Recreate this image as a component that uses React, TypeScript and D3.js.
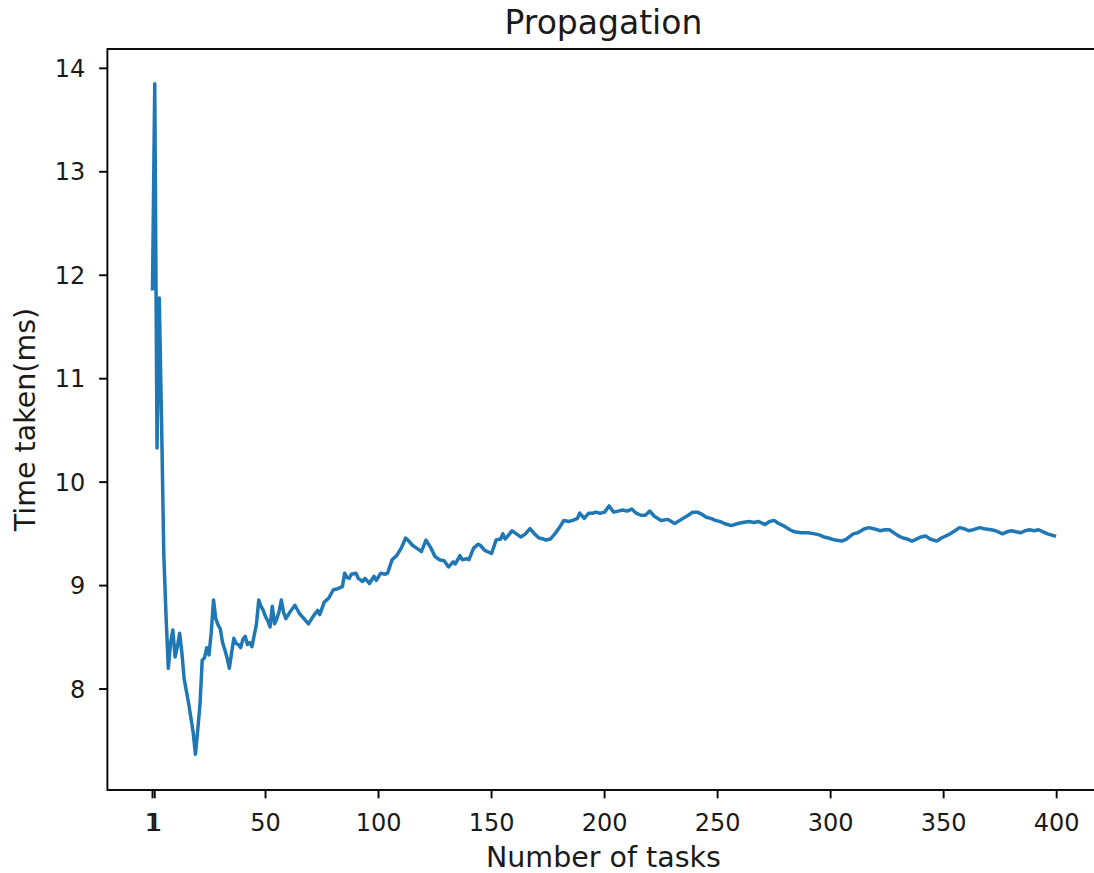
import React from "react";
import * as d3 from "d3";

const xValues: number[] = [
  0, 1, 2, 3, 4, 5, 6, 7, 8, 9, 10, 11, 12, 13, 14, 15, 16, 17, 18, 19, 20, 21, 22, 23, 24, 25, 26, 27, 28, 29,
  30, 31, 32, 33, 34, 35, 36, 37, 38, 39, 40, 41, 42, 43, 44, 45, 46, 47, 48, 49, 50, 51, 52, 53, 54, 55, 56, 57, 58, 59,
  61, 63, 65, 67, 69, 71, 73, 74, 76, 78, 80, 82, 84, 85, 86, 87, 88, 90, 91, 93, 94, 96, 98, 99,
  101, 103, 104, 106, 108, 110, 112, 113, 115, 117, 119, 121, 123, 125, 127, 129, 131, 133, 134, 136, 137, 139, 140,
  142, 144, 145, 147, 150, 152, 154, 155, 156, 158, 159, 161, 163, 165, 167, 169, 171, 173, 174, 176, 178, 180,
  182, 184, 186, 188, 189, 191, 193, 195, 196, 198, 200, 202, 204, 206, 208, 210, 212, 214, 216, 218, 220, 222,
  225, 228, 231, 234, 237, 239, 241, 243, 245, 247, 249, 251, 253, 256, 259, 261, 264, 266, 268, 271, 273, 275,
  277, 279, 282, 284, 287, 290, 293, 295, 297, 299, 302, 305, 307, 310, 312, 315, 317, 319, 322, 324, 326, 328,
  330, 332, 334, 336, 338, 340, 342, 344, 347, 349, 352, 355, 357, 359, 361, 363, 366, 368, 371, 373, 376, 378,
  380, 382, 384, 386, 388, 390, 392, 394, 396, 399,
];

const timeValues: number[] = [
  11.87, 13.85, 10.33, 11.78, 10.6, 9.3, 8.7, 8.2, 8.45, 8.57, 8.31, 8.41, 8.54, 8.35, 8.1, 7.98, 7.86, 7.72, 7.58, 7.37,
  7.6, 7.85, 8.28, 8.3, 8.4, 8.33, 8.55, 8.86, 8.68, 8.62, 8.58, 8.45, 8.38, 8.3, 8.2, 8.35, 8.49, 8.44, 8.43, 8.4,
  8.48, 8.51, 8.43, 8.45, 8.41, 8.52, 8.63, 8.86, 8.8, 8.76, 8.7, 8.66, 8.6, 8.8, 8.63, 8.68, 8.75, 8.86, 8.74, 8.68,
  8.75, 8.81, 8.73, 8.68, 8.63, 8.7, 8.76, 8.72, 8.84, 8.88, 8.96, 8.97, 8.99, 9.12, 9.08, 9.07, 9.11, 9.12, 9.07, 9.04,
  9.07, 9.02, 9.09, 9.05,
  9.12, 9.11, 9.12, 9.25, 9.29, 9.36, 9.46, 9.44, 9.39, 9.36, 9.33, 9.44, 9.37, 9.28, 9.25, 9.24, 9.18, 9.23, 9.21,
  9.29, 9.25, 9.26, 9.25,
  9.36, 9.4, 9.39, 9.34, 9.31, 9.44, 9.45, 9.5, 9.45, 9.5, 9.53, 9.5, 9.47, 9.5, 9.55, 9.5, 9.46, 9.45, 9.44, 9.45,
  9.5, 9.56,
  9.63, 9.62, 9.63, 9.65, 9.7, 9.65, 9.7, 9.7, 9.71, 9.7, 9.71, 9.77, 9.71, 9.72, 9.73, 9.72, 9.74, 9.7, 9.68, 9.68,
  9.72, 9.67,
  9.63, 9.64, 9.6, 9.64, 9.68, 9.71, 9.71, 9.69, 9.66, 9.65, 9.63, 9.62, 9.6, 9.58, 9.6, 9.61, 9.62, 9.61, 9.62, 9.59,
  9.62, 9.63,
  9.6, 9.58, 9.54, 9.52, 9.51, 9.51, 9.5, 9.49, 9.47, 9.46, 9.44, 9.43, 9.45, 9.5, 9.51, 9.55, 9.56, 9.55, 9.53, 9.54,
  9.54, 9.51,
  9.48, 9.46, 9.45, 9.43, 9.45, 9.47, 9.48, 9.45, 9.43, 9.46, 9.49, 9.53, 9.56, 9.55, 9.53, 9.54, 9.56, 9.55, 9.54,
  9.53, 9.5, 9.52,
  9.53, 9.52, 9.51, 9.53, 9.54, 9.53, 9.54, 9.52, 9.5, 9.48,
];

const xTickValues: number[] = [0, 1, 50, 100, 150, 200, 250, 300, 350, 400];
const xTickLabels: string[] = ["1", "1", "50", "100", "150", "200", "250", "300", "350", "400"];
const yTickValues: number[] = [8, 9, 10, 11, 12, 13, 14];

const titleText = "Propagation";
const xLabelText = "Number of tasks";
const yLabelText = "Time taken(ms)";

const W = 1094;
const H = 873;
const left = 107.4;
const right = 1099.5;
const top = 49;
const bottom = 790;

export default function App() {
  const x = d3.scaleLinear().domain([-19.95, 418.95]).range([left, right]);
  const y = d3.scaleLinear().domain([7.024, 14.187]).range([bottom, top]);
  const pts: [number, number][] = xValues.map((v, i) => [v, timeValues[i]]);
  const line = d3
    .line<[number, number]>()
    .x((d) => x(d[0]))
    .y((d) => y(d[1]));
  const font = "'DejaVu Sans', sans-serif";
  const tickLen = 8.3;
  return (
    <svg
      width={W}
      height={H}
      style={{ position: "absolute", left: 0, top: 0, background: "#fff" }}
      fontFamily={font}
    >
      <rect x={0} y={0} width={W} height={H} fill="#fff" />
      <defs>
        <clipPath id="plotclip">
          <rect x={left} y={top} width={right - left} height={bottom - top} />
        </clipPath>
      </defs>
      <path
        d={line(pts) || ""}
        fill="none"
        stroke="#1f77b4"
        strokeWidth={3.5}
        strokeLinejoin="round"
        strokeLinecap="square"
        clipPath="url(#plotclip)"
      />
      <rect
        x={left}
        y={top}
        width={right - left}
        height={bottom - top}
        fill="none"
        stroke="#000"
        strokeWidth={1.9}
      />
      {xTickValues.map((t, i) => (
        <g key={"xt" + i}>
          <line x1={x(t)} x2={x(t)} y1={bottom} y2={bottom + tickLen} stroke="#000" strokeWidth={1.9} />
          <text x={x(t)} y={bottom + 41} textAnchor="middle" fontSize={24} fill="#1a1a1a">
            {xTickLabels[i]}
          </text>
        </g>
      ))}
      {yTickValues.map((t) => (
        <g key={"yt" + t}>
          <line x1={left - tickLen} x2={left} y1={y(t)} y2={y(t)} stroke="#000" strokeWidth={1.9} />
          <text x={left - 22} y={y(t) + 8.7} textAnchor="end" fontSize={24} fill="#1a1a1a">
            {t}
          </text>
        </g>
      ))}
      <text x={(left + right) / 2} y={34} textAnchor="middle" fontSize={33} fill="#1a1a1a">
        {titleText}
      </text>
      <text x={(left + right) / 2} y={867} textAnchor="middle" fontSize={28.5} fill="#1a1a1a">
        {xLabelText}
      </text>
      <text
        transform={`translate(35, ${(top + bottom) / 2}) rotate(-90)`}
        textAnchor="middle"
        fontSize={28.5}
        fill="#1a1a1a"
      >
        {yLabelText}
      </text>
    </svg>
  );
}
